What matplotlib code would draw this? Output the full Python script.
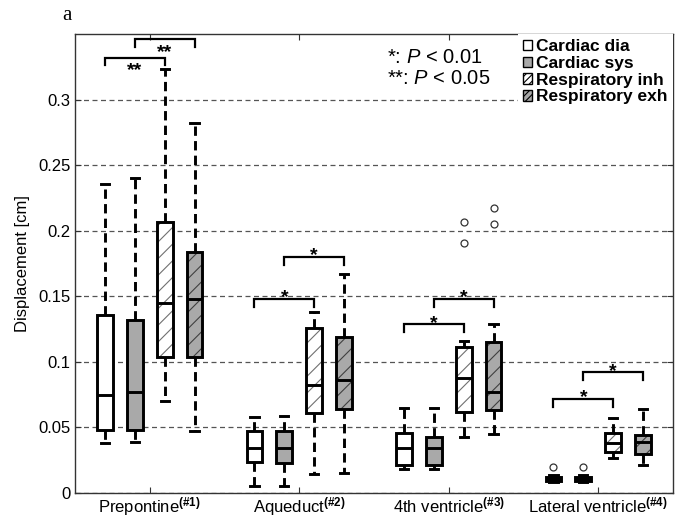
import matplotlib
matplotlib.use("Agg")
import matplotlib.pyplot as plt
from matplotlib.patches import Patch, PathPatch

plt.rcParams['font.family'] = ['Liberation Sans', 'DejaVu Sans']
plt.rcParams['mathtext.fontset'] = 'custom'
plt.rcParams['mathtext.rm'] = 'Liberation Sans'
plt.rcParams['mathtext.it'] = 'Liberation Sans:italic'
plt.rcParams['mathtext.bf'] = 'Liberation Sans:bold'
plt.rcParams['hatch.linewidth'] = 0.8

# ---------------- data ----------------
regions = ['Prepontine', 'Aqueduct', '4th ventricle', 'Lateral ventricle']
region_tags = ['(\\#1)', '(\\#2)', '(\\#3)', '(\\#4)']
series = ['Cardiac dia', 'Cardiac sys', 'Respiratory inh', 'Respiratory exh']

# per region: whislo, q1, median, q3, whishi
cardiac_dia = [
    [0.038, 0.048, 0.075, 0.136, 0.236],
    [0.005, 0.024, 0.034, 0.047, 0.058],
    [0.018, 0.021, 0.034, 0.046, 0.065],
    [0.0085, 0.0095, 0.011, 0.0125, 0.0135],
]
cardiac_sys = [
    [0.039, 0.048, 0.077, 0.132, 0.240],
    [0.005, 0.023, 0.034, 0.047, 0.059],
    [0.018, 0.021, 0.034, 0.043, 0.065],
    [0.0085, 0.0095, 0.011, 0.0125, 0.0135],
]
resp_inh = [
    [0.070, 0.104, 0.145, 0.207, 0.323],
    [0.0145, 0.061, 0.082, 0.126, 0.138],
    [0.043, 0.062, 0.0875, 0.111, 0.116],
    [0.027, 0.031, 0.038, 0.046, 0.057],
]
resp_exh = [
    [0.047, 0.104, 0.148, 0.184, 0.282],
    [0.015, 0.064, 0.086, 0.119, 0.167],
    [0.045, 0.063, 0.077, 0.115, 0.129],
    [0.021, 0.030, 0.039, 0.044, 0.064],
]
fliers_dia = [[], [], [], [0.020]]
fliers_sys = [[], [], [], [0.020]]
fliers_inh = [[], [], [0.191, 0.207], []]
fliers_exh = [[], [], [0.205, 0.217], []]

# significance brackets: (region index, series a, series b, height, label)
brackets = [
    (0, 0, 2, 0.332, '**'),
    (0, 1, 3, 0.346, '**'),
    (1, 0, 2, 0.148, '*'),
    (1, 1, 3, 0.180, '*'),
    (2, 0, 2, 0.1286, '*'),
    (2, 1, 3, 0.148, '*'),
    (3, 0, 2, 0.0716, '*'),
    (3, 1, 3, 0.092, '*'),
]

yticks = [0, 0.05, 0.1, 0.15, 0.2, 0.25, 0.3]
ytick_labels = ['0', '0.05', '0.1', '0.15', '0.2', '0.25', '0.3']

# ---------------- styling ----------------
GRAY = '#a9a9a9'
face_colors = ['white', GRAY, 'white', GRAY]
hatches = [None, None, '//', '//']
hatch_colors = [None, None, '#707070', '#404040']
offsets = [-0.3, -0.1, 0.1, 0.3]
BOX_W = 0.105

fig = plt.figure(figsize=(6.81, 5.17), dpi=100)
ax = fig.add_axes([75 / 681, 1 - 493 / 517, 598 / 681, 459 / 517])

all_series = [cardiac_dia, cardiac_sys, resp_inh, resp_exh]
all_fliers = [fliers_dia, fliers_sys, fliers_inh, fliers_exh]

lw = 2.1
for s, (vals, flrs) in enumerate(zip(all_series, all_fliers)):
    stats = []
    for r, v in enumerate(vals):
        stats.append(dict(whislo=v[0], q1=v[1], med=v[2], q3=v[3], whishi=v[4],
                          fliers=flrs[r], label=''))
    positions = [r + 1 + offsets[s] for r in range(len(vals))]
    bp = ax.bxp(stats, positions=positions, widths=BOX_W, capwidths=0.055,
                patch_artist=True, showfliers=True, manage_ticks=False,
                boxprops=dict(facecolor=face_colors[s], edgecolor='black', linewidth=lw),
                medianprops=dict(color='black', linewidth=lw),
                whiskerprops=dict(color='black', linewidth=lw, linestyle=(0, (3.2, 1.8))),
                capprops=dict(color='black', linewidth=lw),
                flierprops=dict(marker='o', markersize=5, markerfacecolor='white',
                                markeredgecolor='#333333', markeredgewidth=0.9),
                zorder=3)
    if hatches[s]:
        for b in bp['boxes']:
            hp = PathPatch(b.get_path(), transform=b.get_transform(),
                           facecolor='none', edgecolor=hatch_colors[s],
                           linewidth=0, hatch=hatches[s], zorder=3.05)
            ax.add_patch(hp)
        for b in bp['boxes']:
            b.set_zorder(3.1)
            b.set_facecolor('none')
            fill = PathPatch(b.get_path(), transform=b.get_transform(),
                             facecolor=face_colors[s], edgecolor='none', zorder=3.0)
            ax.add_patch(fill)

# brackets
leg = 0.006
for r, a, b, h, lab in brackets:
    xa = r + 1 + offsets[a]
    xb = r + 1 + offsets[b]
    ax.plot([xa, xa, xb, xb], [h - leg, h, h, h - leg], color='black', lw=1.6,
            solid_joinstyle='miter', zorder=4)
    if r == 0:
        ax.text((xa + xb) / 2, h - 0.0135, lab, ha='center', va='baseline',
                fontsize=14, fontweight='bold', zorder=4)
    else:
        ax.text((xa + xb) / 2, h - 0.0025, lab, ha='center', va='baseline',
                fontsize=14, fontweight='bold', zorder=4)

# axes
ax.set_xlim(0.5, 4.5)
ax.set_ylim(0, 0.35)
ax.set_yticks(yticks)
ax.set_yticklabels(ytick_labels, fontsize=12)
ax.set_xticks([1, 2, 3, 4])
ax.set_xticklabels([f'{n}$^{{\\mathbf{{{t}}}}}$' for n, t in zip(regions, region_tags)],
                   fontsize=12)
ax.tick_params(direction='in', top=True, right=True, length=4, width=0.8,
               color='#333333', pad=3)
ax.tick_params(axis='x', pad=1.5)
ax.set_ylabel('Displacement [cm]', fontsize=12, labelpad=6)
for sp in ax.spines.values():
    sp.set_color('#333333')
    sp.set_linewidth(1.0)

ax.set_axisbelow(True)
ax.yaxis.grid(True, color='#555555', linewidth=0.9, linestyle=(0, (4, 2.8)))

# p-value note
ax.text((387 - 75) / 598, (493 - 48) / 459, '*: $P$ < 0.01\n**: $P$ < 0.05',
        transform=ax.transAxes, ha='left', va='top', fontsize=14.5,
        linespacing=1.15, zorder=5,
        bbox=dict(facecolor='white', edgecolor='none', pad=3))

# legend
handles = [Patch(facecolor=face_colors[i], edgecolor='black', linewidth=1,
                 hatch=('/////' if hatches[i] else None)) for i in range(4)]
lg = ax.legend(handles, series, loc='upper right', bbox_to_anchor=(1.0, 1.0),
               borderaxespad=0.0, borderpad=0.3, frameon=True, fancybox=False,
               framealpha=1, edgecolor='none', facecolor='white',
               prop=dict(family='Liberation Sans', weight='bold', size=12.5),
               handlelength=0.5, handleheight=0.55, handletextpad=0.25,
               labelspacing=0.1)
lg.set_zorder(6)

fig.text(62 / 681, 1 - 16 / 517, 'a', family='Liberation Serif', fontsize=15,
         ha='left', va='center')

fig.savefig('out.png', dpi=100)
